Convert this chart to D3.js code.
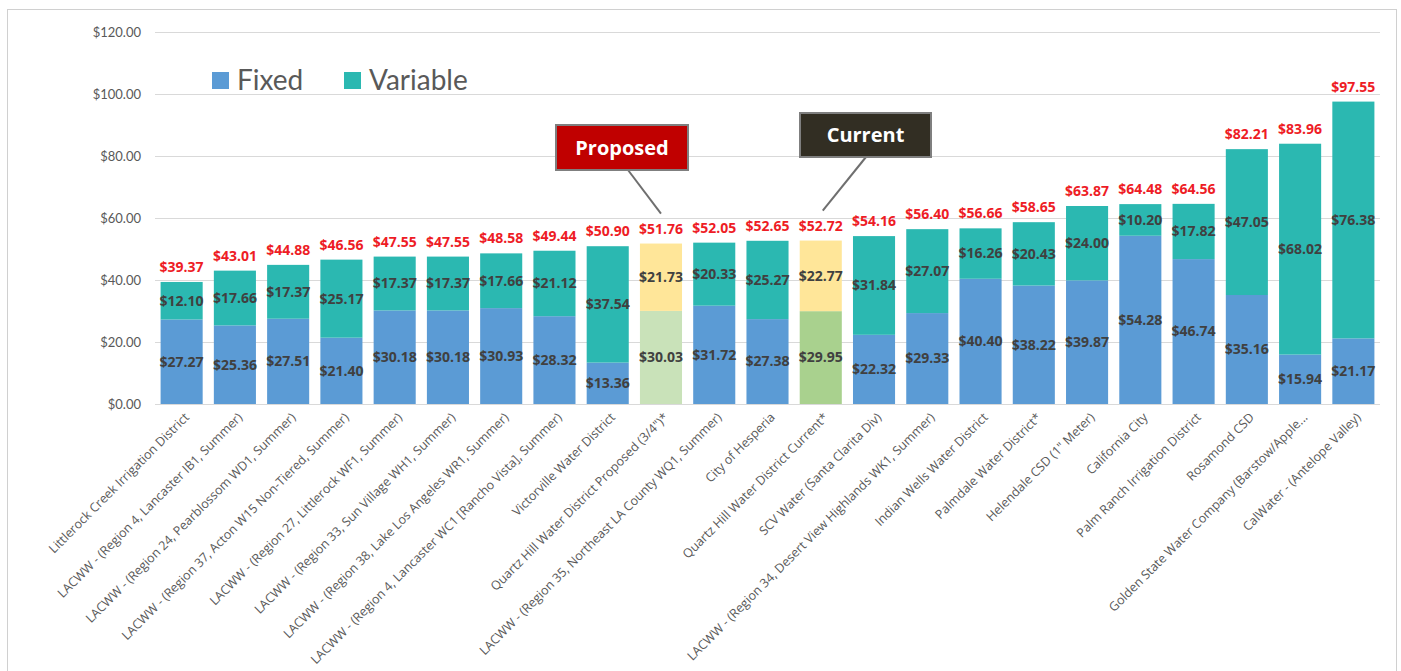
<!DOCTYPE html>
<html>
<head>
<meta charset="utf-8">
<script src="https://cdn.jsdelivr.net/npm/d3@7"></script>
<style>
  body { margin: 0; background: #fff; }
  svg { display: block; font-family: Lato, "Open Sans", sans-serif; }
</style>
</head>
<body>
<div id="chart"></div>
<script>
// Chart data
var categories = [
  "Littlerock Creek Irrigation District",
  "LACWW - (Region 4, Lancaster IB1, Summer)",
  "LACWW - (Region 24, Pearblossom WD1, Summer)",
  "LACWW - (Region 37, Acton W15 Non-Tiered, Summer)",
  "LACWW - (Region 27, Littlerock WF1, Summer)",
  "LACWW - (Region 33, Sun Village WH1, Summer)",
  "LACWW - (Region 38, Lake Los Angeles WR1, Summer)",
  "LACWW - (Region 4, Lancaster WC1 [Rancho Vista], Summer)",
  "Victorville Water District",
  "Quartz Hill Water District Proposed (3/4\")*",
  "LACWW - (Region 35, Northeast LA County WQ1, Summer)",
  "City of Hesperia",
  "Quartz Hill Water District Current*",
  "SCV Water (Santa Clarita Div)",
  "LACWW - (Region 34, Desert View Highlands WK1, Summer)",
  "Indian Wells Water District",
  "Palmdale Water District*",
  "Helendale CSD (1\" Meter)",
  "California City",
  "Palm Ranch Irrigation District",
  "Rosamond CSD",
  "Golden State Water Company (Barstow/Apple...",
  "CalWater - (Antelope Valley)"
];
var fixedValues = [27.27, 25.36, 27.51, 21.40, 30.18, 30.18, 30.93, 28.32, 13.36, 30.03, 31.72, 27.38,
  29.95, 22.32, 29.33, 40.40, 38.22, 39.87, 54.28, 46.74, 35.16, 15.94, 21.17];
var variableValues = [12.10, 17.66, 17.37, 25.17, 17.37, 17.37, 17.66, 21.12, 37.54, 21.73, 20.33, 25.27,
  22.77, 31.84, 27.07, 16.26, 20.43, 24.00, 10.20, 17.82, 47.05, 68.02, 76.38];
var totalValues = [39.37, 43.01, 44.88, 46.56, 47.55, 47.55, 48.58, 49.44, 50.90, 51.76, 52.05, 52.65,
  52.72, 54.16, 56.40, 56.66, 58.65, 63.87, 64.48, 64.56, 82.21, 83.96, 97.55];
var yTicks = [0, 20, 40, 60, 80, 100, 120];
var seriesNames = ["Fixed", "Variable"];
var proposedIndex = 9;
var currentIndex = 12;

var width = 1401, height = 671;
var margin = { top: 32, right: 21, bottom: 267, left: 155 };

var svg = d3.select("#chart").append("svg")
  .attr("width", width)
  .attr("height", height);

// outer frame
svg.append("rect")
  .attr("x", 7.5).attr("y", 9.5)
  .attr("width", 1389).attr("height", 700)
  .attr("fill", "none")
  .attr("stroke", "#d0d0d0");

var x = d3.scaleBand()
  .domain(categories)
  .range([margin.left, width - margin.right])
  .paddingInner(0.21)
  .paddingOuter(0.105);

var y = d3.scaleLinear()
  .domain([0, 120])
  .range([height - margin.bottom, margin.top]);

// gridlines
svg.append("g")
  .selectAll("line")
  .data(yTicks)
  .join("line")
  .attr("x1", margin.left)
  .attr("x2", width - margin.right)
  .attr("y1", function (d) { return Math.round(y(d)) + 0.5; })
  .attr("y2", function (d) { return Math.round(y(d)) + 0.5; })
  .attr("stroke", "#d9d9d9");

// y axis labels
var yAxis = d3.axisLeft(y)
  .tickValues(yTicks)
  .tickSize(0)
  .tickPadding(14)
  .tickFormat(function (d) { return "$" + d3.format(".2f")(d); });

svg.append("g")
  .attr("transform", "translate(" + margin.left + ",0)")
  .call(yAxis)
  .call(function (g) { g.select(".domain").remove(); })
  .selectAll("text")
  .attr("font-family", "Lato, sans-serif")
  .attr("font-size", 13)
  .attr("fill", "#595959");

// bar colours
function fixedColor(i) {
  if (i === proposedIndex) return "#c9e2b9";
  if (i === currentIndex) return "#a9d18e";
  return "#5b9bd5";
}
function variableColor(i) {
  if (i === proposedIndex || i === currentIndex) return "#ffe699";
  return "#2bb8b1";
}

var bars = svg.append("g");

bars.selectAll("rect.fixed")
  .data(fixedValues)
  .join("rect")
  .attr("class", "fixed")
  .attr("x", function (d, i) { return x(categories[i]); })
  .attr("width", x.bandwidth())
  .attr("y", function (d) { return y(d); })
  .attr("height", function (d) { return y(0) - y(d); })
  .attr("fill", function (d, i) { return fixedColor(i); });

bars.selectAll("rect.variable")
  .data(variableValues)
  .join("rect")
  .attr("class", "variable")
  .attr("x", function (d, i) { return x(categories[i]); })
  .attr("width", x.bandwidth())
  .attr("y", function (d, i) { return y(fixedValues[i] + d); })
  .attr("height", function (d) { return y(0) - y(d); })
  .attr("fill", function (d, i) { return variableColor(i); });

var money = function (v) { return "$" + d3.format(".2f")(v); };
var cx = function (i) { return x(categories[i]) + x.bandwidth() / 2; };

// segment labels
var labels = svg.append("g")
  .attr("font-family", "'Open Sans', sans-serif")
  .attr("font-size", 14)
  .attr("font-weight", "bold")
  .attr("text-anchor", "middle");

labels.selectAll("text.fl")
  .data(fixedValues)
  .join("text")
  .attr("class", "fl")
  .attr("x", function (d, i) { return cx(i); })
  .attr("y", function (d) { return y(d / 2); })
  .attr("dy", "0.35em")
  .attr("fill", "#404040")
  .text(money);

labels.selectAll("text.vl")
  .data(variableValues)
  .join("text")
  .attr("class", "vl")
  .attr("x", function (d, i) { return cx(i); })
  .attr("y", function (d, i) { return y(fixedValues[i] + d / 2); })
  .attr("dy", "0.35em")
  .attr("fill", "#404040")
  .text(money);

labels.selectAll("text.tl")
  .data(totalValues)
  .join("text")
  .attr("class", "tl")
  .attr("x", function (d, i) { return cx(i); })
  .attr("y", function (d) { return y(d) - 10; })
  .attr("fill", "#ee1c25")
  .text(money);

// x category labels
svg.append("g")
  .selectAll("text")
  .data(categories)
  .join("text")
  .attr("transform", function (d, i) {
    return "translate(" + (cx(i) + 2) + "," + (y(0) + 8) + ") rotate(-45)";
  })
  .attr("text-anchor", "end")
  .attr("dy", "0.7em")
  .attr("font-family", "'Open Sans', sans-serif")
  .attr("font-size", 12.5)
  .attr("fill", "#595959")
  .text(function (d) { return d; });

// legend
var legend = svg.append("g")
  .attr("transform", "translate(212,72)");
var legendX = [0, 132];
var legendColors = ["#5b9bd5", "#2bb8b1"];
seriesNames.forEach(function (name, i) {
  legend.append("rect")
    .attr("x", legendX[i]).attr("y", 0)
    .attr("width", 17).attr("height", 17)
    .attr("fill", legendColors[i]);
  legend.append("text")
    .attr("x", legendX[i] + 25).attr("y", 18)
    .attr("font-family", "Lato, sans-serif")
    .attr("font-size", 28)
    .attr("fill", "#595959")
    .text(name);
});

// callouts
function callout(label, i, box, fill) {
  var g = svg.append("g");
  g.append("line")
    .attr("x1", box.lx).attr("y1", box.y + box.h)
    .attr("x2", cx(i) + box.dx).attr("y2", y(totalValues[i]) - 30)
    .attr("stroke", "#6f6f6f")
    .attr("stroke-width", 2);
  g.append("rect")
    .attr("x", box.x).attr("y", box.y)
    .attr("width", box.w).attr("height", box.h)
    .attr("fill", fill)
    .attr("stroke", "#7f7f7f")
    .attr("stroke-width", 2);
  g.append("text")
    .attr("x", box.x + box.w / 2).attr("y", box.y + box.h / 2)
    .attr("dy", "0.35em")
    .attr("text-anchor", "middle")
    .attr("font-family", "'Open Sans', sans-serif")
    .attr("font-weight", "bold")
    .attr("font-size", 20)
    .attr("fill", "#ffffff")
    .text(label);
}
callout("Proposed", proposedIndex, { x: 556, y: 125, w: 132, h: 45, lx: 628, dx: 0 }, "#c00000");
callout("Current", currentIndex, { x: 800, y: 113, w: 131, h: 44, lx: 866, dx: 2 }, "#322e23");
</script>
</body>
</html>
